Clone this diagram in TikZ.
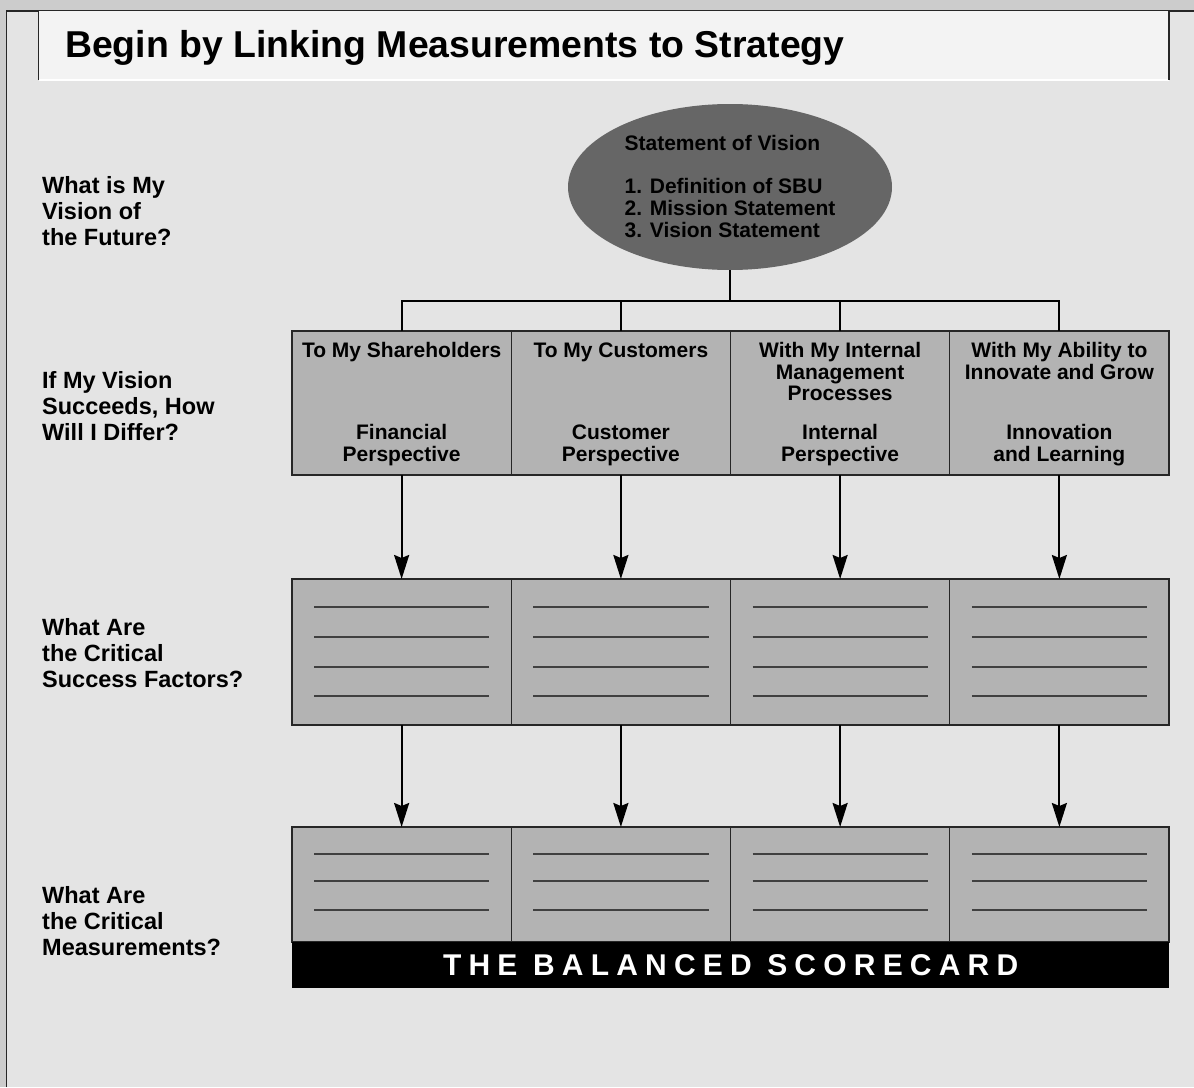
\documentclass[tikz,border=0pt]{standalone}
\usepackage{fontspec}
\setmainfont{Liberation Sans}
\usepackage{pgf,tikz}
\usetikzlibrary{shapes,arrows.meta,positioning}
\definecolor{pagegray}{HTML}{CCCCCC}
\definecolor{panelgray}{HTML}{E4E4E4}
\definecolor{titlegray}{HTML}{F3F3F3}
\definecolor{boxgray}{HTML}{B3B3B3}
\definecolor{visiongray}{HTML}{666666}
\tikzstyle{perspective} = [draw=black!85, fill=boxgray, line width=1.2pt, rectangle, minimum width=219.25pt, inner sep=0pt, outer sep=0pt]
\tikzstyle{question} = [anchor=west, align=left, inner sep=0pt, font=\bfseries\fontsize{23.5}{26}\selectfont]
\tikzstyle{boxtext} = [align=center, inner sep=0pt, font=\bfseries\fontsize{21}{21.5}\selectfont]
\tikzstyle{branch} = [line width=2.2pt]
\tikzstyle{flow} = [line width=2.2pt, -{Stealth[length=24pt,width=15pt,inset=3pt]}]
\tikzstyle{blankline} = [draw=black!75, line width=1.3pt]

\begin{document}
\begin{tikzpicture}[x=1pt,y=-1pt]
\useasboundingbox (0,0) rectangle (1194,1087);
% frame and title bar
\fill[pagegray] (0,0) rectangle (1194,1087);
\fill[panelgray] (6.5,11) rectangle (1194,1087);
\draw[line width=1.5pt, black!85] (6.5,1087) -- (6.5,11) -- (1194,11);
\fill[titlegray] (38.5,11) rectangle (1169,80);
\draw[line width=2pt, white] (38.5,80) -- (1169,80);
\draw[line width=1.3pt, black!85] (38.5,80) -- (38.5,11) (1169,11) -- (1169,80);
\node[anchor=base west, inner sep=0pt, font=\bfseries\fontsize{37.4}{42}\selectfont] (title) at (65,57) {Begin by Linking Measurements to Strategy};

% questions on the left
\node[question] (q1) at (42,211) {What is My\\Vision of\\the Future?};
\node[question] (q2) at (42,406) {If My Vision\\Succeeds, How\\Will I Differ?};
\node[question] (q3) at (42,653) {What Are\\the Critical\\Success Factors?};
\node[question] (q4) at (42,921) {What Are\\the Critical\\Measurements?};

% vision
\node[ellipse, fill=visiongray, minimum width=324pt, minimum height=166pt, inner sep=0pt, align=left, font=\bfseries\fontsize{21}{22}\selectfont] (vision) at (730,187)
  {Statement of Vision\\[21pt]1. Definition of SBU\\2. Mission Statement\\3. Vision Statement};

% perspectives
\node[perspective, minimum height=144pt, anchor=north west] (f1) at (292,331) {};
\node[perspective, minimum height=144pt, right=0pt of f1] (f2) {};
\node[perspective, minimum height=144pt, right=0pt of f2] (f3) {};
\node[perspective, minimum height=144pt, right=0pt of f3] (f4) {};
\node[boxtext, below=11.5pt of f1.north] (f1top) {To My Shareholders};
\node[boxtext, below=11.5pt of f2.north] (f2top) {To My Customers};
\node[boxtext, below=11.5pt of f3.north] (f3top) {With My Internal\\Management\\Processes};
\node[boxtext, below=11.5pt of f4.north] (f4top) {With My Ability to\\Innovate and Grow};
\node[boxtext, above=9pt of f1.south] (f1bot) {Financial\\Perspective};
\node[boxtext, above=9pt of f2.south] (f2bot) {Customer\\Perspective};
\node[boxtext, above=9pt of f3.south] (f3bot) {Internal\\Perspective};
\node[boxtext, above=9pt of f4.south] (f4bot) {Innovation\\and Learning};

% critical success factors
\node[perspective, minimum height=146pt, below=104pt of f1] (c1) {};
\node[perspective, minimum height=146pt, right=0pt of c1] (c2) {};
\node[perspective, minimum height=146pt, right=0pt of c2] (c3) {};
\node[perspective, minimum height=146pt, right=0pt of c3] (c4) {};

% critical measurements
\node[perspective, minimum height=115pt, below=102pt of c1] (m1) {};
\node[perspective, minimum height=115pt, right=0pt of m1] (m2) {};
\node[perspective, minimum height=115pt, right=0pt of m2] (m3) {};
\node[perspective, minimum height=115pt, right=0pt of m3] (m4) {};
\node[fill=black, minimum width=877pt, minimum height=46pt, inner sep=0pt, anchor=north west, text=white,
  font=\bfseries\fontsize{30}{36}\selectfont\addfontfeature{LetterSpace=24}] (card) at (m1.south west) {THE BALANCED SCORECARD};

\foreach \i in {1,...,4} {
  \foreach \d in {28,58,88,117}
    \draw[blankline] ([xshift=22pt,yshift=-\d pt]c\i.north west) -- ([xshift=-22pt,yshift=-\d pt]c\i.north east);
  \foreach \d in {27,54,83}
    \draw[blankline] ([xshift=22pt,yshift=-\d pt]m\i.north west) -- ([xshift=-22pt,yshift=-\d pt]m\i.north east);
  \draw[flow] (f\i) -- (c\i);
  \draw[flow] (c\i) -- (m\i);
}

% tree from the vision
\coordinate[below=31pt of vision.south] (hub);
\draw[branch] (vision.south) -- (hub);
\draw[branch] (f1.north) |- (hub) -| (f4.north);
\draw[branch] (f2.north) -- (f2.north |- hub);
\draw[branch] (f3.north) -- (f3.north |- hub);
\end{tikzpicture}
\end{document}
